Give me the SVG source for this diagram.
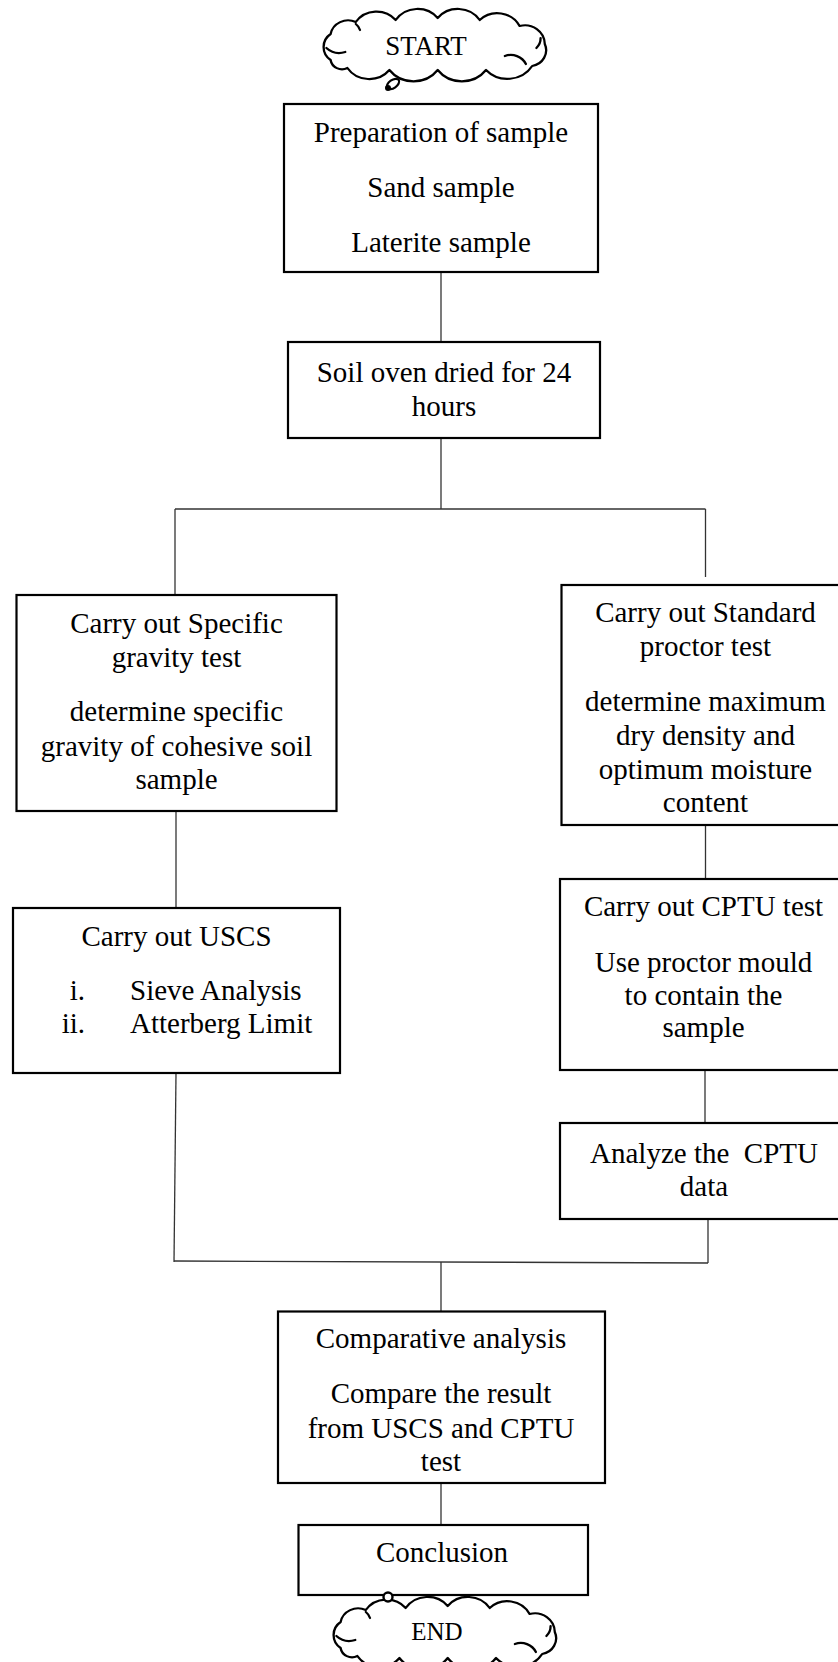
<svg xmlns="http://www.w3.org/2000/svg" width="838" height="1662" viewBox="0 0 838 1662">
  <style>
    .box { fill: #ffffff; stroke: #000000; stroke-width: 2.2; }
    .link { stroke: #333333; stroke-width: 1.3; fill: none; }
    .cloud { fill: #ffffff; stroke: #000000; stroke-width: 2.2; stroke-linejoin: round; }
    .fold { fill: none; stroke: #000000; stroke-width: 2.2; stroke-linecap: round; }
    text { font-family: "Liberation Serif", "Times New Roman", serif; font-size: 29px; fill: #000000; }
    .mid { text-anchor: middle; }
    .num { text-anchor: end; }
  </style>
  <defs>
    <!-- scalloped cloud outline in a 0..228 x 0..74 frame -->
    <g id="cloudShape">
      <path class="cloud" d="M 12,52 A 16,16 0 0 1 12,26 A 17,17 0 0 1 36,14 A 24,24 0 0 1 74,12 A 25,25 0 0 1 114,10 A 25,25 0 0 1 154,12 A 24,24 0 0 1 192,18 A 19,19 0 0 1 216,36 A 16,16 0 0 1 204,58 A 28,28 0 0 1 160,62 A 29,29 0 0 1 114,62 A 29,29 0 0 1 68,62 A 25,25 0 0 1 28,60 A 11,11 0 0 1 12,52 Z"/>
      <path class="fold" d="M 8,40 A 18,18 0 0 0 26,44"/>
      <path class="fold" d="M 178,48 A 16,16 0 0 1 198,56"/>
      <path class="fold" d="M 212,30 A 14,14 0 0 1 208,40"/>
      <path class="fold" d="M 36,16 A 12,12 0 0 1 40,22"/>
    </g>
  </defs>

  <!-- connectors -->
  <g id="connectors">
    <line class="link" x1="441" y1="272" x2="441" y2="342"/>
    <line class="link" x1="441" y1="438" x2="441" y2="509"/>
    <line class="link" x1="175" y1="509" x2="705.5" y2="509"/>
    <line class="link" x1="175" y1="509" x2="175" y2="595"/>
    <line class="link" x1="705.5" y1="509" x2="705.5" y2="577"/>
    <line class="link" x1="176" y1="811" x2="176" y2="908"/>
    <line class="link" x1="705.5" y1="825" x2="705.5" y2="879"/>
    <line class="link" x1="176" y1="1073" x2="174" y2="1262"/>
    <line class="link" x1="705" y1="1070" x2="705" y2="1123"/>
    <line class="link" x1="708" y1="1219" x2="708" y2="1263"/>
    <line class="link" x1="174" y1="1261" x2="708" y2="1263"/>
    <line class="link" x1="441" y1="1262" x2="441" y2="1311"/>
    <line class="link" x1="441" y1="1483" x2="441" y2="1525"/>
  </g>

  <!-- start terminator -->
  <g id="start">
    <use href="#cloudShape" transform="translate(318,8) scale(1.05,1)"/>
    <ellipse cx="393" cy="84" rx="7" ry="4" transform="rotate(-35 393 84)" fill="#ffffff" stroke="#000000" stroke-width="2.2"/>
    <circle cx="388" cy="88" r="3" fill="#000000"/>
    <text class="mid" x="426" y="55" style="font-size:27px">START</text>
  </g>

  <g id="prep">
    <rect class="box" x="284" y="104" width="314" height="168"/>
    <text class="mid" x="441" y="142">Preparation of sample</text>
    <text class="mid" x="441" y="197">Sand sample</text>
    <text class="mid" x="441" y="252">Laterite sample</text>
  </g>

  <g id="oven">
    <rect class="box" x="288" y="342" width="312" height="96"/>
    <text class="mid" x="444" y="382">Soil oven dried for 24</text>
    <text class="mid" x="444" y="416">hours</text>
  </g>

  <g id="specific-gravity">
    <rect class="box" x="16.5" y="595" width="320" height="216"/>
    <text class="mid" x="176.5" y="633">Carry out Specific</text>
    <text class="mid" x="176.5" y="667">gravity test</text>
    <text class="mid" x="176.5" y="721">determine specific</text>
    <text class="mid" x="176.5" y="756">gravity of cohesive soil</text>
    <text class="mid" x="176.5" y="789">sample</text>
  </g>

  <g id="proctor">
    <rect class="box" x="561.5" y="585" width="290" height="240"/>
    <text class="mid" x="705.5" y="622">Carry out Standard</text>
    <text class="mid" x="705.5" y="656">proctor test</text>
    <text class="mid" x="705.5" y="711">determine maximum</text>
    <text class="mid" x="705.5" y="745">dry density and</text>
    <text class="mid" x="705.5" y="779">optimum moisture</text>
    <text class="mid" x="705.5" y="812">content</text>
  </g>

  <g id="uscs">
    <rect class="box" x="13" y="908" width="327" height="165"/>
    <text class="mid" x="176.5" y="946">Carry out USCS</text>
    <text class="num" x="85" y="1000">i.</text>
    <text x="130" y="1000">Sieve Analysis</text>
    <text class="num" x="85" y="1033">ii.</text>
    <text x="130" y="1033">Atterberg Limit</text>
  </g>

  <g id="cptu">
    <rect class="box" x="560" y="879" width="290" height="191"/>
    <text class="mid" x="703.5" y="916">Carry out CPTU test</text>
    <text class="mid" x="703.5" y="972">Use proctor mould</text>
    <text class="mid" x="703.5" y="1005">to contain the</text>
    <text class="mid" x="703.5" y="1037">sample</text>
  </g>

  <g id="analyze">
    <rect class="box" x="560" y="1123" width="290" height="96"/>
    <text class="mid" x="704" y="1163" xml:space="preserve">Analyze the  CPTU</text>
    <text class="mid" x="704" y="1196">data</text>
  </g>

  <g id="comparative">
    <rect class="box" x="278" y="1311.5" width="327" height="171.5"/>
    <text class="mid" x="441" y="1348">Comparative analysis</text>
    <text class="mid" x="441" y="1403">Compare the result</text>
    <text class="mid" x="441" y="1438">from USCS and CPTU</text>
    <text class="mid" x="441" y="1471">test</text>
  </g>

  <g id="conclusion">
    <rect class="box" x="298.5" y="1525" width="289.5" height="70"/>
    <text class="mid" x="442" y="1562">Conclusion</text>
  </g>

  <!-- end terminator -->
  <g id="end">
    <use href="#cloudShape" transform="translate(328,1596) scale(1.05,1)"/>
    <circle cx="388" cy="1597" r="4.5" fill="#ffffff" stroke="#000000" stroke-width="2.4"/>
    <text class="mid" x="437" y="1640" style="font-size:25px">END</text>
  </g>
</svg>
